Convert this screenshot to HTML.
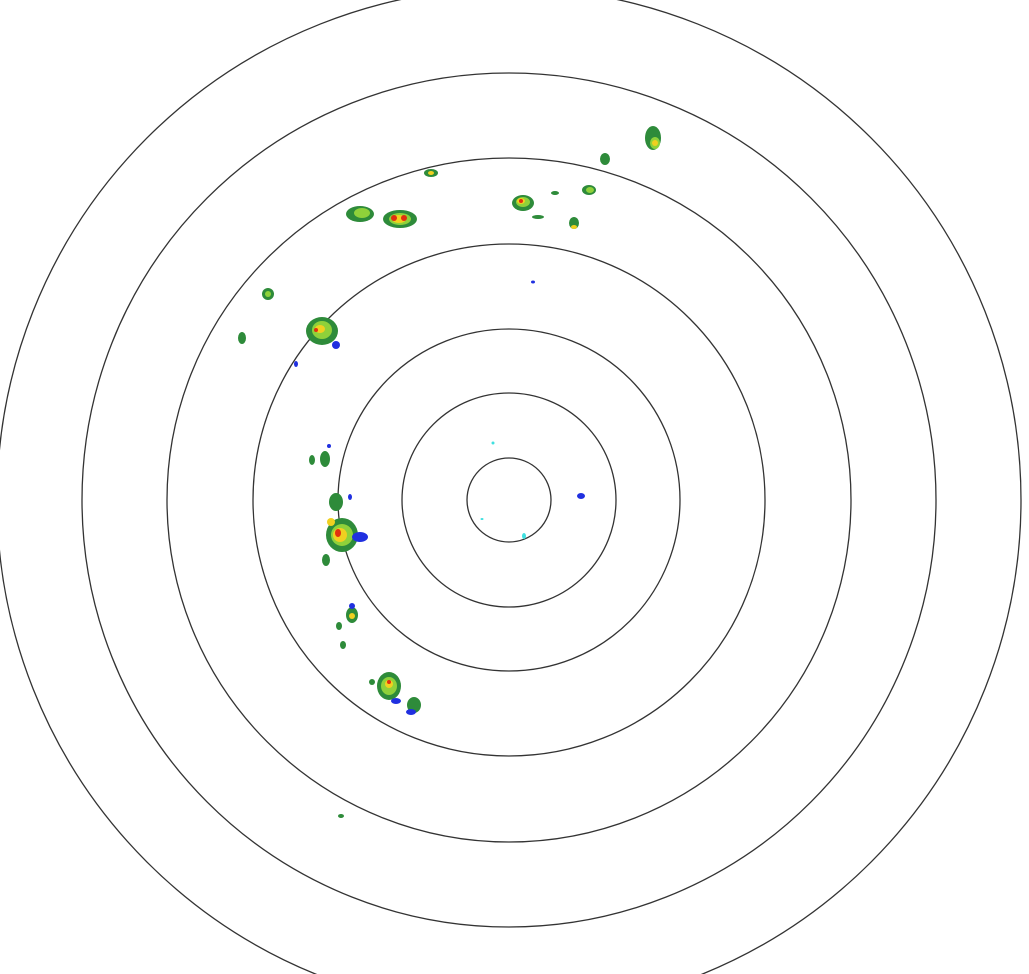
<!DOCTYPE html>
<html><head><meta charset="utf-8"><style>html,body{margin:0;padding:0;background:#fff}svg{display:block}</style></head>
<body>
<svg width="1029" height="974" viewBox="0 0 1029 974" xmlns="http://www.w3.org/2000/svg">
<rect width="1029" height="974" fill="#fff"/>
<g fill="none" stroke="#333" stroke-width="1.3">
<circle cx="509" cy="500" r="42"/>
<circle cx="509" cy="500" r="107"/>
<circle cx="509" cy="500" r="171"/>
<circle cx="509" cy="500" r="256"/>
<circle cx="509" cy="500" r="342"/>
<circle cx="509" cy="500" r="427"/>
<circle cx="509" cy="500" r="512"/>
</g>
<g>
<!-- blobs: green base, yellow, red cores -->
<g fill="#2e8b3a">
<ellipse cx="653" cy="138" rx="8" ry="12"/>
<ellipse cx="605" cy="159" rx="5" ry="6"/>
<ellipse cx="431" cy="173" rx="7" ry="4"/>
<ellipse cx="360" cy="214" rx="14" ry="8"/>
<ellipse cx="400" cy="219" rx="17" ry="9"/>
<ellipse cx="523" cy="203" rx="11" ry="8"/>
<ellipse cx="589" cy="190" rx="7" ry="5"/>
<ellipse cx="555" cy="193" rx="4" ry="2"/>
<ellipse cx="538" cy="217" rx="6" ry="2"/>
<ellipse cx="574" cy="223" rx="5" ry="6"/>
<ellipse cx="268" cy="294" rx="6" ry="6"/>
<ellipse cx="242" cy="338" rx="4" ry="6"/>
<ellipse cx="322" cy="331" rx="16" ry="14"/>
<ellipse cx="325" cy="459" rx="5" ry="8"/>
<ellipse cx="312" cy="460" rx="3" ry="5"/>
<ellipse cx="336" cy="502" rx="7" ry="9"/>
<ellipse cx="342" cy="535" rx="16" ry="17"/>
<ellipse cx="326" cy="560" rx="4" ry="6"/>
<ellipse cx="352" cy="615" rx="6" ry="8"/>
<ellipse cx="339" cy="626" rx="3" ry="4"/>
<ellipse cx="343" cy="645" rx="3" ry="4"/>
<ellipse cx="389" cy="686" rx="12" ry="14"/>
<ellipse cx="414" cy="705" rx="7" ry="8"/>
<ellipse cx="372" cy="682" rx="3" ry="3"/>
<ellipse cx="341" cy="816" rx="3" ry="2"/>
</g>
<g fill="#8fd13a">
<ellipse cx="655" cy="143" rx="5" ry="6"/>
<ellipse cx="362" cy="213" rx="8" ry="5"/>
<ellipse cx="400" cy="219" rx="11" ry="6"/>
<ellipse cx="523" cy="202" rx="7" ry="5"/>
<ellipse cx="322" cy="330" rx="10" ry="9"/>
<ellipse cx="342" cy="535" rx="11" ry="11"/>
<ellipse cx="389" cy="686" rx="8" ry="9"/>
<ellipse cx="590" cy="190" rx="4" ry="3"/>
<ellipse cx="268" cy="294" rx="3" ry="3"/>
</g>
<g fill="#f0d020">
<ellipse cx="655" cy="143" rx="3" ry="3"/>
<ellipse cx="399" cy="219" rx="7" ry="4"/>
<ellipse cx="521" cy="201" rx="4" ry="3"/>
<ellipse cx="340" cy="535" rx="7" ry="7"/>
<ellipse cx="331" cy="522" rx="4" ry="4"/>
<ellipse cx="352" cy="616" rx="3" ry="3"/>
<ellipse cx="389" cy="684" rx="4" ry="4"/>
<ellipse cx="431" cy="173" rx="3" ry="2"/>
<ellipse cx="574" cy="227" rx="3" ry="2"/>
<ellipse cx="320" cy="329" rx="5" ry="4"/>
</g>
<g fill="#e03010">
<ellipse cx="394" cy="218" rx="3" ry="3"/>
<ellipse cx="404" cy="218" rx="3" ry="3"/>
<ellipse cx="521" cy="201" rx="2" ry="2"/>
<ellipse cx="338" cy="533" rx="3" ry="4"/>
<ellipse cx="316" cy="330" rx="2" ry="2"/>
<ellipse cx="389" cy="682" rx="2" ry="2"/>
</g>
<g fill="#2030e0">
<ellipse cx="360" cy="537" rx="8" ry="5"/>
<ellipse cx="396" cy="701" rx="5" ry="3"/>
<ellipse cx="411" cy="712" rx="5" ry="3"/>
<ellipse cx="581" cy="496" rx="4" ry="3"/>
<ellipse cx="533" cy="282" rx="2" ry="1.5"/>
<ellipse cx="336" cy="345" rx="4" ry="4"/>
<ellipse cx="350" cy="497" rx="2" ry="3"/>
<ellipse cx="352" cy="606" rx="3" ry="3"/>
<ellipse cx="329" cy="446" rx="2" ry="2"/>
<ellipse cx="296" cy="364" rx="2" ry="3"/>
</g>
<g fill="#40e0e0">
<ellipse cx="524" cy="536" rx="2" ry="3"/>
<ellipse cx="493" cy="443" rx="1.5" ry="1.5"/>
<ellipse cx="482" cy="519" rx="1.5" ry="1"/>
</g>
</g>
</svg>
</body></html>
